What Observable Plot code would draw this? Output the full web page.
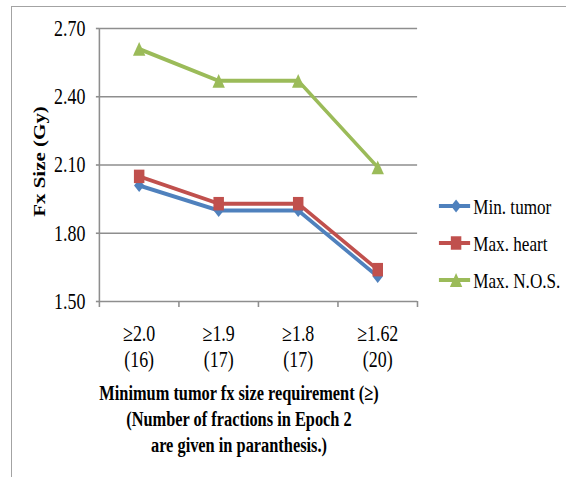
<!DOCTYPE html>
<html>
<head>
<meta charset="utf-8">
<script src="https://cdn.jsdelivr.net/npm/d3@7"></script>
<script src="https://cdn.jsdelivr.net/npm/@observablehq/plot@0.6"></script>
<style>
  html, body { margin: 0; padding: 0; background: #ffffff; }
  #chart { position: relative; width: 566px; height: 477px; overflow: hidden; background: #ffffff; }
  #frame { position: absolute; left: 11px; top: 6px; width: 620px; height: 520px;
           border-left: 1.5px solid #a3a3a3; border-top: 1.5px solid #a3a3a3; }
  #chart svg { position: absolute; left: 0; top: 0; }
</style>
</head>
<body>
<div id="chart"><div id="frame"></div></div>
<script>
// Threshold categories and number of fractions in Epoch 2
const thresholds = ["≥2.0", "≥1.9", "≥1.8", "≥1.62"];
const fractionCounts = [16, 17, 17, 20];

// Fraction size (Gy) per series
const minTumor = [2.01, 1.90, 1.90, 1.61];
const maxHeart = [2.05, 1.93, 1.93, 1.64];
const maxNOS   = [2.61, 2.47, 2.47, 2.09];

const seriesNames = ["Min. tumor", "Max. heart", "Max. N.O.S."];
const seriesColors = ["#4F81BD", "#C0504D", "#9BBB59"];
const yTicks = [1.50, 1.80, 2.10, 2.40, 2.70];

const yTitle = "Fx Size (Gy)";
const xTitle = "Minimum tumor fx size requirement (≥)\n(Number of fractions in Epoch 2\nare given in paranthesis.)";

// Triangle marker centred on its bounding box
const triangleBox = {
  draw(ctx, size) {
    const s = Math.sqrt(size * 4 / Math.sqrt(3));
    const h = s * Math.sqrt(3) / 2;
    ctx.moveTo(0, -h / 2);
    ctx.lineTo(s / 2, h / 2);
    ctx.lineTo(-s / 2, h / 2);
    ctx.closePath();
  }
};
const seriesSymbols = [d3.symbolDiamond2, d3.symbolSquare, triangleBox];
const seriesRadii = [5.9, 7.6, 5.9];

// Category slots sit in the middle of each unit interval
const slots = thresholds.map((_, i) => i + 0.5);
const bounds = d3.range(thresholds.length + 1);
const categoryLabels = thresholds.map((t, i) => `${t}\n(${fractionCounts[i]})`);

const series = [minTumor, maxHeart, maxNOS].map((vals, s) => ({
  name: seriesNames[s],
  color: seriesColors[s],
  symbol: seriesSymbols[s],
  r: seriesRadii[s],
  rows: vals.map((v, i) => ({pos: slots[i], value: v}))
}));

// The drawing is laid out on a wider canvas and squeezed horizontally to 566px
const outW = 566, outH = 477, W = 726;
const gridColor = "#8e8e8e";
const font = "'Liberation Serif', 'Times New Roman', serif";

const seriesMarks = series.flatMap(s => [
  Plot.line(s.rows, {x: "pos", y: "value", stroke: s.color, strokeWidth: 4, strokeLinejoin: "round"}),
  Plot.dot(s.rows, {x: "pos", y: "value", fill: s.color, symbol: s.symbol, r: s.r})
]);

const svg = Plot.plot({
  width: W,
  height: outH,
  marginLeft: 127,
  marginRight: 191,
  marginTop: 28,
  marginBottom: 176,
  style: {fontFamily: font, fontSize: "23px", color: "black", background: "transparent", overflow: "visible"},
  x: {type: "linear", domain: [0, thresholds.length], label: null},
  y: {domain: [1.5, 2.7], label: null},
  marks: [
    Plot.gridY(yTicks, {stroke: gridColor, strokeOpacity: 1, strokeWidth: 1.6}),
    Plot.ruleX([0], {stroke: gridColor, strokeWidth: 2}),
    Plot.axisY(yTicks, {tickFormat: d3.format(".2f"), tickSize: 4, tickPadding: 14,
      stroke: gridColor, strokeWidth: 1.6, fill: "black", fontSize: 23, label: null}),
    Plot.axisX(bounds, {tickSize: 6, stroke: gridColor, strokeWidth: 2, fill: "none", label: null}),
    Plot.axisX(slots, {tickSize: 0, tickPadding: 21, tickFormat: (d, i) => categoryLabels[i],
      fill: "black", fontSize: 23, lineHeight: 1.13, label: null}),
    ...seriesMarks,
    Plot.text([yTitle], {frameAnchor: "left", textAnchor: "middle", rotate: -90, dx: -76, dy: -3.5,
      fontSize: 21, fontWeight: "bold", fill: "black"}),
    Plot.text([xTitle], {frameAnchor: "bottom", textAnchor: "middle", lineAnchor: "top", dx: -25, dy: 79.5,
      fontSize: 21, fontWeight: "bold", lineHeight: 1.25, fill: "black"})
  ]
});

// Legend: line with marker, followed by the series name
const legend = d3.select(svg).append("g")
  .attr("font-family", font)
  .attr("font-size", 22)
  .attr("text-anchor", "start")
  .attr("fill", "black");
series.forEach((s, i) => {
  const g = legend.append("g").attr("transform", `translate(563,${206 + i * 37})`);
  g.append("line").attr("x1", 0).attr("x2", 40).attr("y1", 0).attr("y2", 0)
    .attr("stroke", s.color).attr("stroke-width", 4);
  g.append("path").attr("transform", "translate(22,0)")
    .attr("d", d3.symbol(s.symbol, s.r * s.r * Math.PI)())
    .attr("fill", s.color);
  g.append("text").attr("x", 44).attr("y", 0).attr("dy", "0.35em")
    .attr("text-anchor", "start").text(s.name);
});

svg.setAttribute("width", outW);
svg.setAttribute("height", outH);
svg.setAttribute("preserveAspectRatio", "none");
svg.style.width = outW + "px";
svg.style.height = outH + "px";
svg.style.maxWidth = "none";

document.getElementById("chart").appendChild(svg);
</script>
</body>
</html>
